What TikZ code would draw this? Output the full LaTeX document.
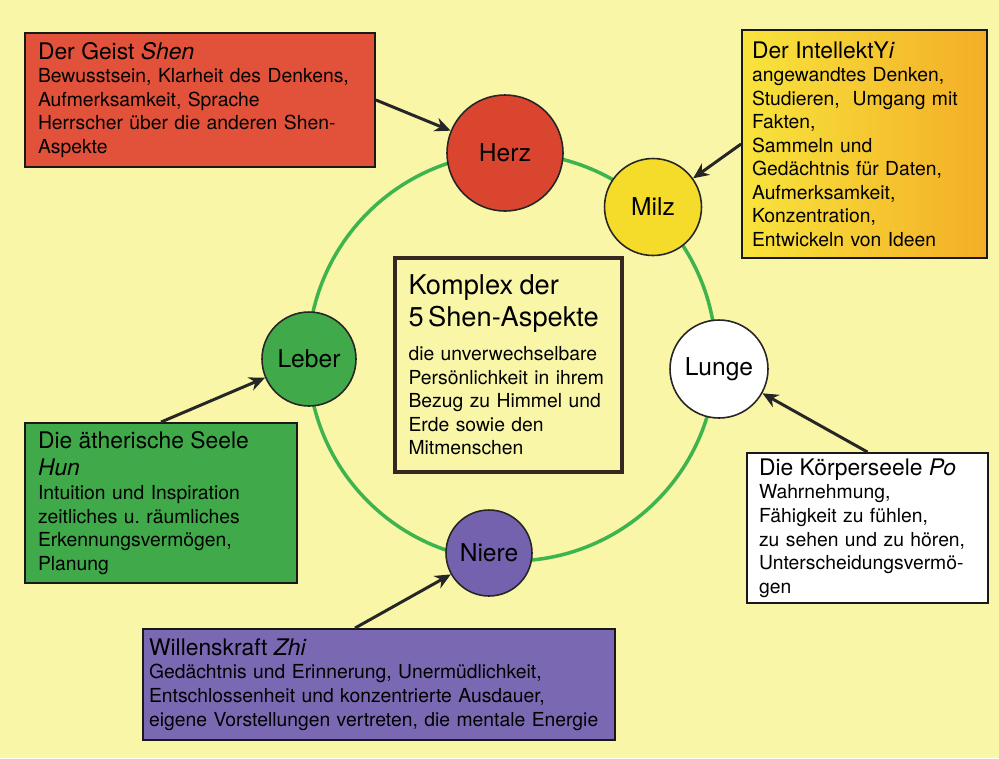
\documentclass[tikz,border=0pt]{standalone}
\usepackage{fontspec}
\setmainfont{TeX Gyre Heros}
\usetikzlibrary{arrows.meta}
\definecolor{paper}{RGB}{250,246,168}
\definecolor{ringgreen}{RGB}{62,180,78}
\definecolor{herzred}{RGB}{218,69,48}
\definecolor{geistred}{RGB}{226,81,58}
\definecolor{milzyellow}{RGB}{245,219,42}
\definecolor{yileft}{RGB}{248,228,60}
\definecolor{yiright}{RGB}{243,174,39}
\definecolor{lebergreen}{RGB}{64,169,74}
\definecolor{niereviolet}{RGB}{117,98,174}
\definecolor{zhiviolet}{RGB}{123,104,179}
\definecolor{coreframe}{RGB}{52,40,32}
\tikzset{
  organ/.style={circle,draw=black!85,line width=0.9pt,inner sep=0pt,font=\fontsize{14}{16}\selectfont},
  aspect/.style={draw=black!90,line width=1.1pt,align=left,inner ysep=0pt,font=\fontsize{11}{13.4}\selectfont},
  pointer/.style={line width=1.7pt,black!85,-{Stealth[length=9pt,width=8pt]}},
  ring/.style={ringgreen,line width=2pt}
}
\newcommand\aspecttitle[1]{{\fontsize{13}{15.5}\selectfont #1\par}}

\begin{document}
\begin{tikzpicture}[x=0.02cm,y=-0.02cm]
			%%%%% START %%%%%
			\fill[paper] (0,0) rectangle (999,758);
			\useasboundingbox (0,0) rectangle (999,758);
			
			\draw[ring] (512,357) circle[radius=4.08cm];
			
			\node[organ,fill=herzred,minimum size=2.32cm] (herz) at (505,153) {Herz};
			\node[organ,fill=milzyellow,minimum size=1.94cm] (milz) at (653,207) {Milz};
			\node[organ,fill=white,minimum size=1.96cm] (lunge) at (719,369) {Lunge};
			\node[organ,fill=niereviolet,minimum size=1.72cm] (niere) at (489,553) {Niere};
			\node[organ,fill=lebergreen,minimum size=1.88cm] (leber) at (309,359) {Leber};
			
			\node[aspect,fill=geistred,text width=6.48cm,inner xsep=0.26cm,minimum height=2.68cm] (geist) at (200,100) {%
				\aspecttitle{Der Geist \textit{Shen}}
				Bewusstsein, Klarheit des Denkens,\\
				Aufmerksamkeit, Sprache\\
				Herrscher über die anderen Shen-\\
				Aspekte};
			\node[aspect,left color=yileft,right color=yiright,text width=4.5cm,inner xsep=0.2cm,minimum height=4.56cm] (intellekt) at (864.5,144) {%
				\aspecttitle{Der IntellektY\textit{i}}
				angewandtes Denken,\\
				Studieren,\ \ Umgang mit\\
				Fakten,\\
				Sammeln und\\
				Gedächtnis für Daten,\\
				Aufmerksamkeit,\\
				Konzentration,\\
				Entwickeln von Ideen};
			\node[aspect,fill=lebergreen,text width=4.92cm,inner xsep=0.26cm,minimum height=3.2cm] (hun) at (161,503) {%
				\aspecttitle{Die ätherische Seele\\ \textit{Hun}}
				Intuition und Inspiration\\
				zeitliches u.\ räumliches\\
				Erkennungsvermögen,\\
				Planung};
			\node[aspect,fill=white,text width=4.34cm,inner xsep=0.24cm,minimum height=3cm] (po) at (867.5,528) {%
				\aspecttitle{Die Körperseele \textit{Po}}
				Wahrnehmung,\\
				Fähigkeit zu fühlen,\\
				zu sehen und zu hören,\\
				Unterscheidungsvermö-\\
				gen};
			\node[aspect,fill=zhiviolet,text width=9.2cm,inner xsep=0.12cm,minimum height=2.22cm] (zhi) at (379,684.5) {%
				\aspecttitle{Willenskraft \textit{Zhi}}
				Gedächtnis und Erinnerung, Unermüdlichkeit,\\
				Entschlossenheit und konzentrierte Ausdauer,\\
				eigene Vorstellungen vertreten, die mentale Energie};
			
			\node[aspect,draw=coreframe,line width=2.8pt,fill=paper,text width=4cm,inner xsep=0.27cm,minimum height=4.28cm] (core) at (508.5,365) {%
				{\fontsize{15.5}{18}\selectfont Komplex der\\ 5\,Shen-Aspekte\par}
				\vspace{6pt}
				die unverwechselbare\\
				Persönlichkeit in ihrem\\
				Bezug zu Himmel und\\
				Erde sowie den\\
				Mitmenschen};
			
			\draw[pointer] (geist.east) -- (herz);
			\draw[pointer] (intellekt.west) -- (milz);
			\draw[pointer] (hun.north) -- (leber);
			\draw[pointer] (po.north) -- (lunge);
			\draw[pointer] ([xshift=-0.48cm]zhi.north) -- (niere);
			%%%%% END %%%%%
\end{tikzpicture}
\end{document}
